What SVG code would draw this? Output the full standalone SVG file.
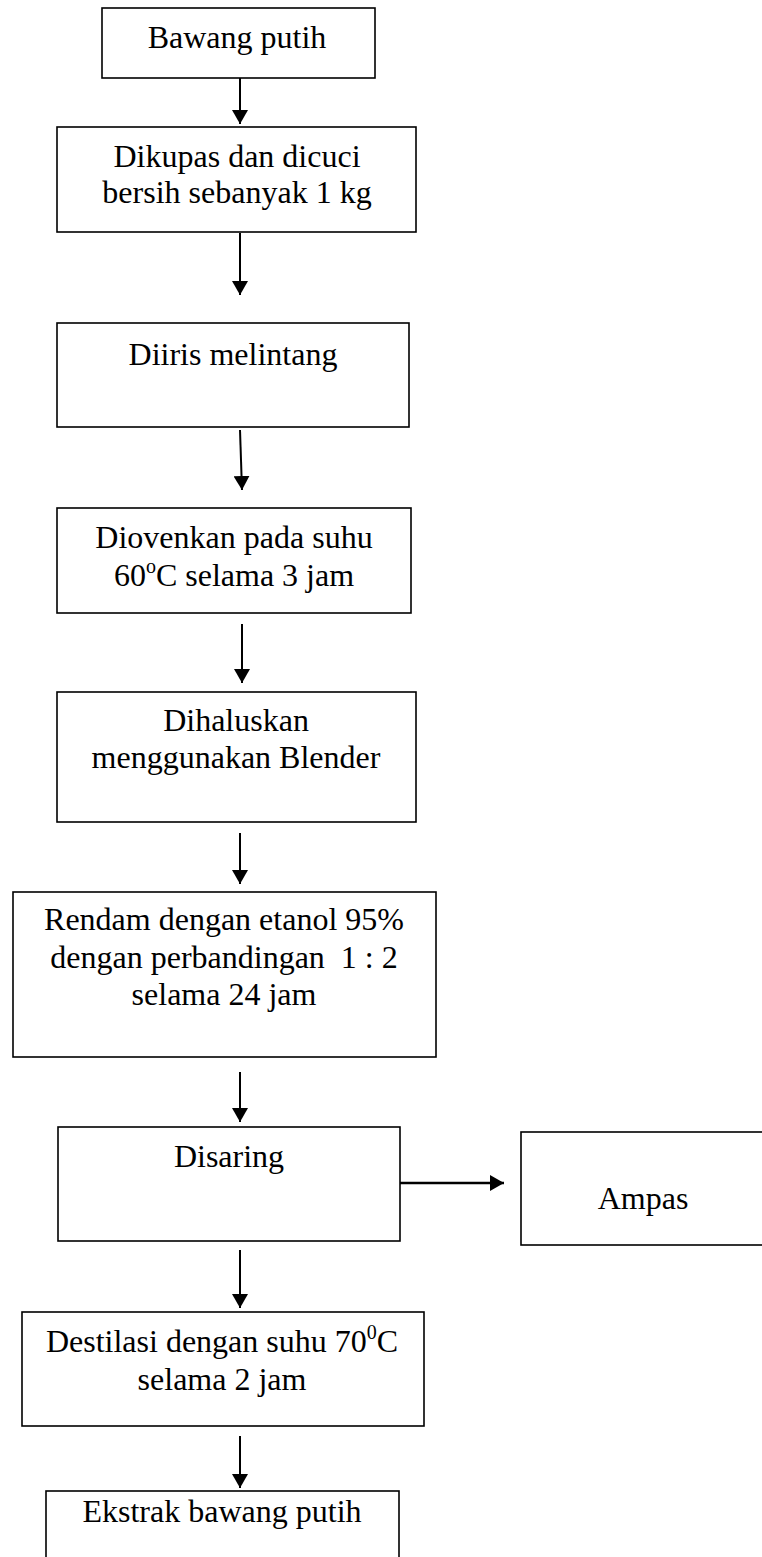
<svg xmlns="http://www.w3.org/2000/svg" width="762" height="1557" viewBox="0 0 762 1557">
<style>
.box{fill:#fff;stroke:#000;stroke-width:1.6}
.t{font-family:"Liberation Serif","Times New Roman",serif;font-size:32px;fill:#000;text-anchor:middle}
.sup{font-size:20px}
.c{stroke:#000;stroke-width:2;fill:none}
.c2{stroke:#000;stroke-width:2.6;fill:none}
</style>
<defs>
<marker id="ah" viewBox="0 0 14 16" refX="14" refY="8" markerWidth="14" markerHeight="16" markerUnits="userSpaceOnUse" orient="auto">
<path d="M0,0 L14,8 L0,16 z" fill="#000"/>
</marker>
</defs>
<rect width="762" height="1557" fill="#fff"/>
<g id="connectors">
<line class="c" x1="240" y1="78" x2="240" y2="124" marker-end="url(#ah)"/>
<line class="c" x1="240" y1="233" x2="240" y2="295" marker-end="url(#ah)"/>
<line class="c" x1="240" y1="430" x2="242" y2="490" marker-end="url(#ah)"/>
<line class="c" x1="242" y1="624" x2="242" y2="683" marker-end="url(#ah)"/>
<line class="c" x1="240" y1="833" x2="240" y2="884" marker-end="url(#ah)"/>
<line class="c" x1="240" y1="1072" x2="240" y2="1122" marker-end="url(#ah)"/>
<line class="c2" x1="398" y1="1183" x2="504" y2="1183" marker-end="url(#ah)"/>
<line class="c" x1="240" y1="1250" x2="240" y2="1308" marker-end="url(#ah)"/>
<line class="c" x1="240" y1="1436" x2="240" y2="1488" marker-end="url(#ah)"/>
</g>
<g id="n1">
<rect class="box" x="102" y="8" width="273" height="70"/>
<text class="t" x="237" y="48">Bawang putih</text>
</g>
<g id="n2">
<rect class="box" x="57" y="127" width="359" height="105"/>
<text class="t" x="237" y="167">Dikupas dan dicuci</text>
<text class="t" x="237" y="203">bersih sebanyak 1 kg</text>
</g>
<g id="n3">
<rect class="box" x="57" y="323" width="352" height="104"/>
<text class="t" x="233" y="365">Diiris melintang</text>
</g>
<g id="n4">
<rect class="box" x="57" y="508" width="354" height="105"/>
<text class="t" x="234" y="548">Diovenkan pada suhu</text>
<text class="t" x="234" y="586">60<tspan class="sup" dy="-13">o</tspan><tspan dy="13">C selama 3 jam</tspan></text>
</g>
<g id="n5">
<rect class="box" x="57" y="692" width="359" height="130"/>
<text class="t" x="236" y="731">Dihaluskan</text>
<text class="t" x="236" y="768">menggunakan Blender</text>
</g>
<g id="n6">
<rect class="box" x="13" y="892" width="423" height="165"/>
<text class="t" x="224" y="930">Rendam dengan etanol 95%</text>
<text class="t" x="224" y="968" xml:space="preserve">dengan perbandingan  1 : 2</text>
<text class="t" x="224" y="1005">selama 24 jam</text>
</g>
<g id="n7">
<rect class="box" x="58" y="1127" width="342" height="114"/>
<text class="t" x="229" y="1167">Disaring</text>
</g>
<g id="n8">
<rect class="box" x="521" y="1132" width="250" height="113"/>
<text class="t" x="643" y="1209">Ampas</text>
</g>
<g id="n9">
<rect class="box" x="22" y="1312" width="402" height="114"/>
<text class="t" x="222" y="1352">Destilasi dengan suhu 70<tspan class="sup" dy="-13">0</tspan><tspan dy="13">C</tspan></text>
<text class="t" x="222" y="1390">selama 2 jam</text>
</g>
<g id="n10">
<rect class="box" x="46" y="1491" width="353" height="80"/>
<text class="t" x="222" y="1522">Ekstrak bawang putih</text>
</g>
</svg>
